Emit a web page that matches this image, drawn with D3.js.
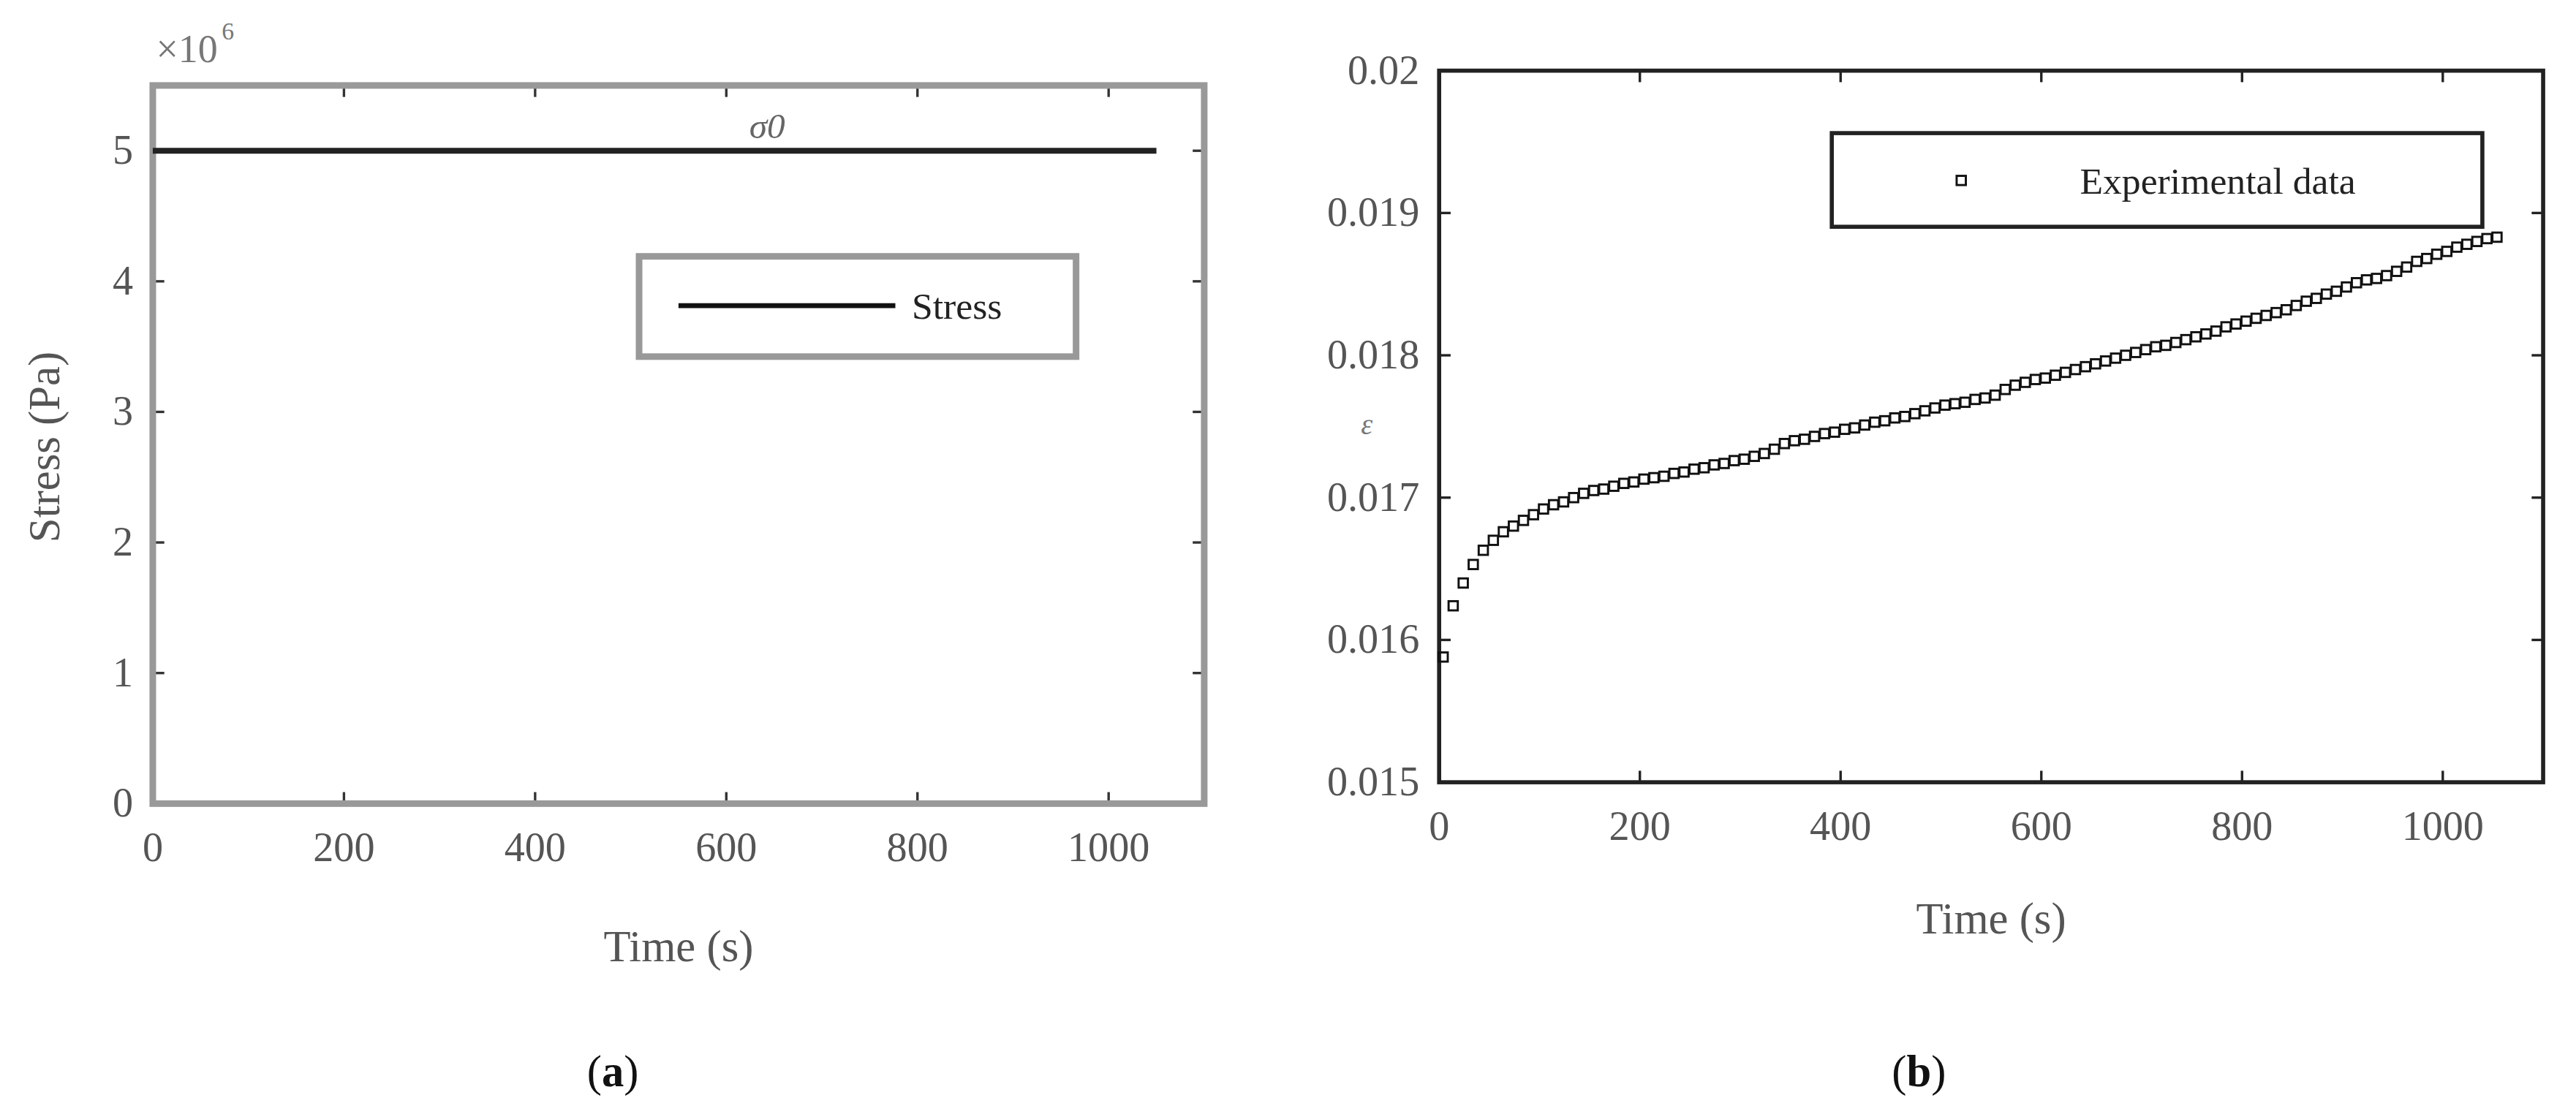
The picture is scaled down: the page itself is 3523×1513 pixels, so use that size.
<!DOCTYPE html>
<html><head><meta charset="utf-8">
<script src="https://cdn.jsdelivr.net/npm/d3@7"></script>
<style>body{margin:0;background:#fff}text{font-family:"Liberation Serif","DejaVu Serif",serif}</style>
</head><body>
<script>
const stressTime = [0, 1050];
const stressValues = [5, 5];
const xTicks = [0, 200, 400, 600, 800, 1000];
const stressTicks = [0, 1, 2, 3, 4, 5];
const strainTicks = [0.015, 0.016, 0.017, 0.018, 0.019, 0.02];
const strainTime = [];
for (let t = 4; t <= 1054; t += 10) strainTime.push(t);
const strainValues = [15.88,16.24,16.40,16.53,16.63,16.70,16.76,16.80,16.84,16.88,
16.92,16.95,16.97,17.00,17.03,17.05,17.06,17.08,17.10,17.11,
17.13,17.14,17.15,17.17,17.18,17.20,17.21,17.23,17.24,17.26,
17.27,17.29,17.31,17.34,17.38,17.40,17.41,17.43,17.45,17.46,
17.48,17.49,17.51,17.53,17.54,17.56,17.57,17.59,17.61,17.63,
17.65,17.66,17.67,17.69,17.70,17.72,17.76,17.79,17.81,17.83,
17.84,17.86,17.88,17.90,17.92,17.94,17.96,17.98,18.00,18.02,
18.04,18.06,18.07,18.09,18.11,18.13,18.15,18.17,18.20,18.22,
18.24,18.26,18.28,18.30,18.32,18.35,18.38,18.40,18.43,18.45,
18.48,18.51,18.53,18.54,18.56,18.59,18.62,18.66,18.68,18.71,
18.73,18.76,18.78,18.80,18.82,18.83].map(v => v / 1000);

const svg = d3.select("body").append("svg").attr("width", 3523).attr("height", 1513)
  .attr("viewBox", "0 0 1568 673").attr("preserveAspectRatio", "none");

function panel(o) {
  const x = d3.scaleLinear().domain([0, 1100]).range([o.x0, o.x1]);
  const y = d3.scaleLinear().domain(o.yd).range([o.y1, o.y0]);
  const g = svg.append("g");
  const tl = 7;
  xTicks.forEach(t => {
    g.append("line").attr("x1", x(t)).attr("x2", x(t)).attr("y1", o.y1).attr("y2", o.y1 - tl).attr("stroke", o.tc).attr("stroke-width", 1.5);
    g.append("line").attr("x1", x(t)).attr("x2", x(t)).attr("y1", o.y0).attr("y2", o.y0 + tl).attr("stroke", o.tc).attr("stroke-width", 1.5);
    g.append("text").attr("x", x(t)).attr("y", o.y1 + o.xl).attr("text-anchor", "middle").attr("font-size", 25).attr("fill", o.txt).text(t);
  });
  o.yt.forEach(t => {
    g.append("line").attr("x1", o.x0).attr("x2", o.x0 + tl).attr("y1", y(t)).attr("y2", y(t)).attr("stroke", o.tc).attr("stroke-width", 1.5);
    g.append("line").attr("x1", o.x1).attr("x2", o.x1 - tl).attr("y1", y(t)).attr("y2", y(t)).attr("stroke", o.tc).attr("stroke-width", 1.5);
    g.append("text").attr("x", o.x0 - 12).attr("y", y(t) + 8).attr("text-anchor", "end").attr("font-size", 25).attr("fill", o.txt).text(o.fmt(t));
  });
  g.append("rect").attr("x", o.x0).attr("y", o.y0).attr("width", o.x1 - o.x0).attr("height", o.y1 - o.y0)
    .attr("fill", "none").attr("stroke", o.bc).attr("stroke-width", o.bw);
  g.append("text").attr("x", (o.x0 + o.x1) / 2).attr("y", o.xt).attr("text-anchor", "middle").attr("font-size", 27).attr("fill", o.txt).text("Time (s)");
  return {x, y, g};
}

// Panel (a)
const a = panel({x0: 93, x1: 733, y0: 52, y1: 489, yd: [0, 5.5], yt: stressTicks, fmt: d => d, tc: "#333", bc: "#999", bw: 4, txt: "#555", xl: 35, xt: 585});
a.g.append("path").datum(stressTime.map((t, i) => [t, stressValues[i]]))
  .attr("d", d3.line().x(d => a.x(d[0])).y(d => a.y(d[1]))).attr("stroke", "#222").attr("stroke-width", 3.5).attr("fill", "none");
a.g.append("text").attr("x", 95).attr("y", 38).attr("font-size", 24).attr("fill", "#777").text("×10");
a.g.append("text").attr("x", 135).attr("y", 24).attr("font-size", 15).attr("fill", "#777").text("6");
a.g.append("text").attr("x", 467).attr("y", 84).attr("text-anchor", "middle").attr("font-size", 22).attr("font-style", "italic").attr("fill", "#666").text("σ0");
a.g.append("text").attr("transform", "translate(36,272) rotate(-90)").attr("text-anchor", "middle").attr("font-size", 27).attr("fill", "#555").text("Stress (Pa)");
a.g.append("rect").attr("x", 389).attr("y", 156).attr("width", 266).attr("height", 61).attr("fill", "#fff").attr("stroke", "#999").attr("stroke-width", 4);
a.g.append("line").attr("x1", 413).attr("x2", 545).attr("y1", 186).attr("y2", 186).attr("stroke", "#111").attr("stroke-width", 3);
a.g.append("text").attr("x", 555).attr("y", 194).attr("font-size", 23).attr("fill", "#222").text("Stress");

// Panel (b)
const b = panel({x0: 876, x1: 1548, y0: 43, y1: 476, yd: [0.015, 0.02], yt: strainTicks, fmt: d => d3.format(".3~f")(d), tc: "#222", bc: "#222", bw: 2.5, txt: "#555", xl: 35, xt: 568});
b.g.selectAll("rect.pt").data(strainTime.map((t, i) => [t, strainValues[i]])).enter().append("rect").attr("class", "pt")
  .attr("x", d => b.x(d[0]) - 2.8).attr("y", d => b.y(d[1]) - 2.8).attr("width", 5.6).attr("height", 5.6)
  .attr("fill", "none").attr("stroke", "#111").attr("stroke-width", 1.3);
b.g.append("text").attr("x", 832).attr("y", 264).attr("text-anchor", "middle").attr("font-size", 18).attr("font-style", "italic").attr("fill", "#777").text("ε");
b.g.append("rect").attr("x", 1115).attr("y", 81).attr("width", 396).attr("height", 57).attr("fill", "#fff").attr("stroke", "#222").attr("stroke-width", 2.5);
b.g.append("rect").attr("x", 1191).attr("y", 107).attr("width", 5.6).attr("height", 5.6).attr("fill", "none").attr("stroke", "#111").attr("stroke-width", 1.3);
b.g.append("text").attr("x", 1266).attr("y", 118).attr("font-size", 23).attr("fill", "#222").text("Experimental data");

svg.append("text").attr("x", 373).attr("y", 661).attr("text-anchor", "middle").attr("font-size", 27).attr("fill", "#111")
  .html('(<tspan font-weight="bold">a</tspan>)');
svg.append("text").attr("x", 1168).attr("y", 661).attr("text-anchor", "middle").attr("font-size", 27).attr("fill", "#111")
  .html('(<tspan font-weight="bold">b</tspan>)');
</script>
</body></html>
